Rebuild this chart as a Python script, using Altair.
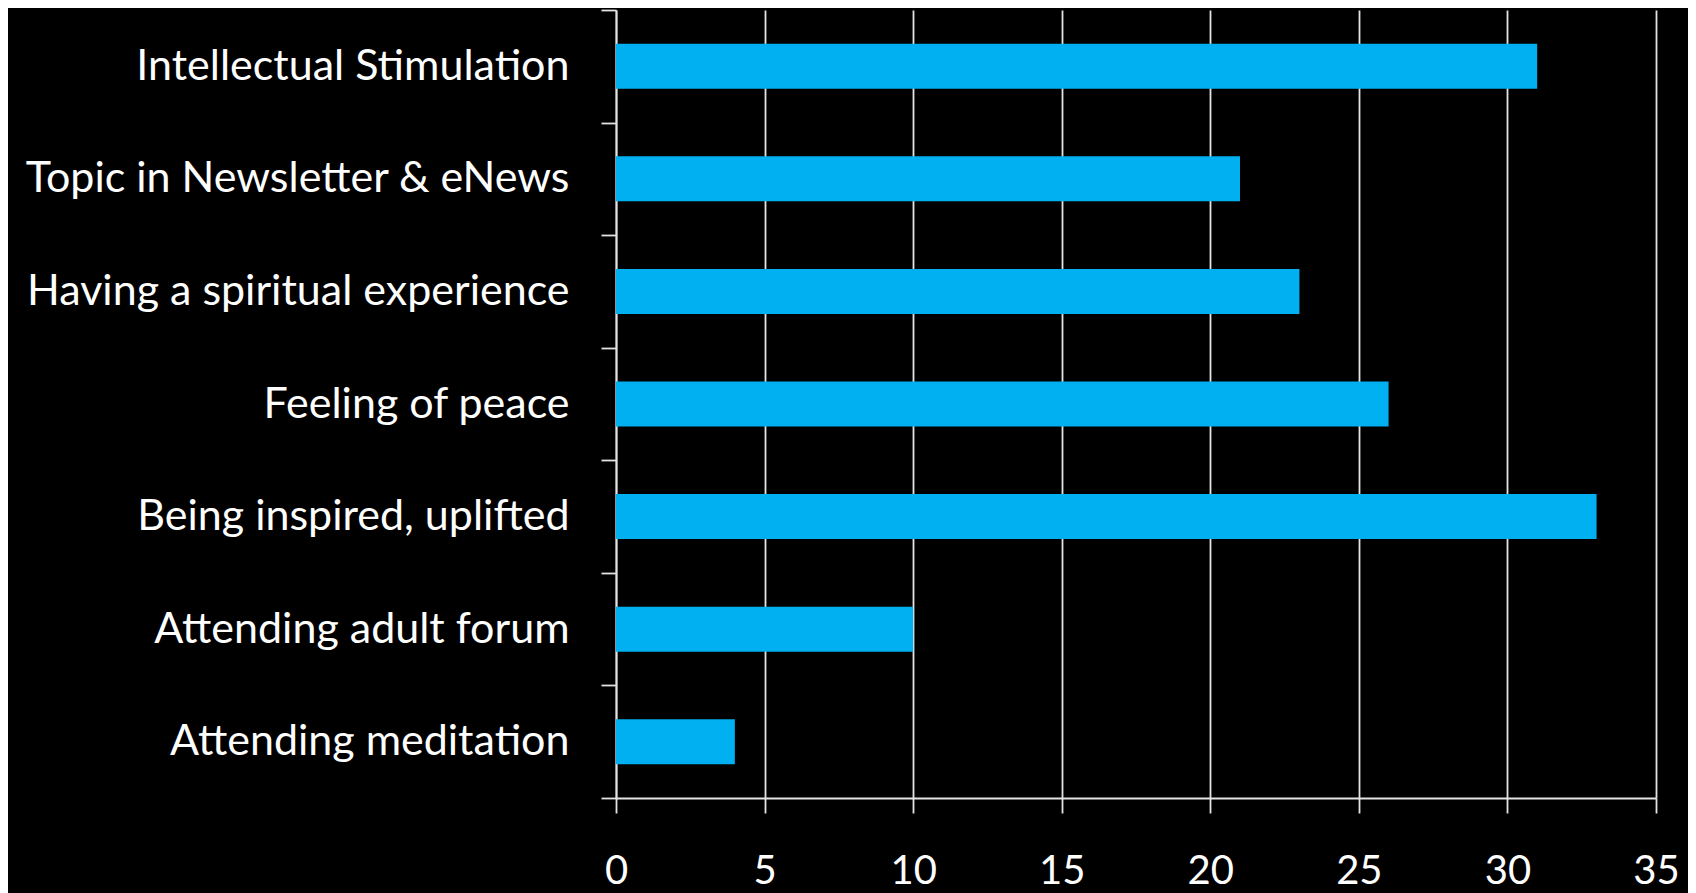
import altair as alt
import pandas as pd

categories = [
    "Intellectual Stimulation",
    "Topic in Newsletter & eNews",
    "Having a spiritual experience",
    "Feeling of peace",
    "Being inspired, uplifted",
    "Attending adult forum",
    "Attending meditation",
]
values = [31, 21, 23, 26, 33, 10, 4]
x_ticks = [0, 5, 10, 15, 20, 25, 30, 35]

df = pd.DataFrame({"category": categories, "value": values})

line_color = "#E3E3E3"

chart = (
    alt.Chart(df)
    .mark_bar(color="#00B0F0", height={"band": 0.4})
    .encode(
        x=alt.X(
            "value:Q",
            scale=alt.Scale(domain=[0, 35], nice=False),
            axis=alt.Axis(
                values=x_ticks,
                title=None,
                grid=True,
                gridColor=line_color,
                gridWidth=1.8,
                domainColor=line_color,
                domainWidth=1.8,
                tickColor=line_color,
                tickWidth=1.8,
                tickSize=15,
                labelColor="white",
                labelFont="Lato",
                labelFontSize=40,
                labelPadding=38,
                labelFlush=False,
            ),
        ),
        y=alt.Y(
            "category:N",
            sort=categories,
            scale=alt.Scale(paddingInner=0, paddingOuter=0),
            axis=alt.Axis(
                title=None,
                tickBand="extent",
                domainColor=line_color,
                domainWidth=1.8,
                tickColor=line_color,
                tickWidth=1.8,
                tickSize=15,
                labelColor="white",
                labelFont="Lato",
                labelFontSize=43,
                labelPadding=32,
                labelLimit=700,
            ),
        ),
    )
    .properties(
        width=1040,
        height=788,
        background="black",
        autosize=alt.AutoSizeParams(type="none"),
        padding={"left": 608, "top": 2, "right": 32, "bottom": 95},
    )
    .configure_view(stroke=None)
)

chart.save("out.html", embed_options={"renderer": "svg", "actions": False})
